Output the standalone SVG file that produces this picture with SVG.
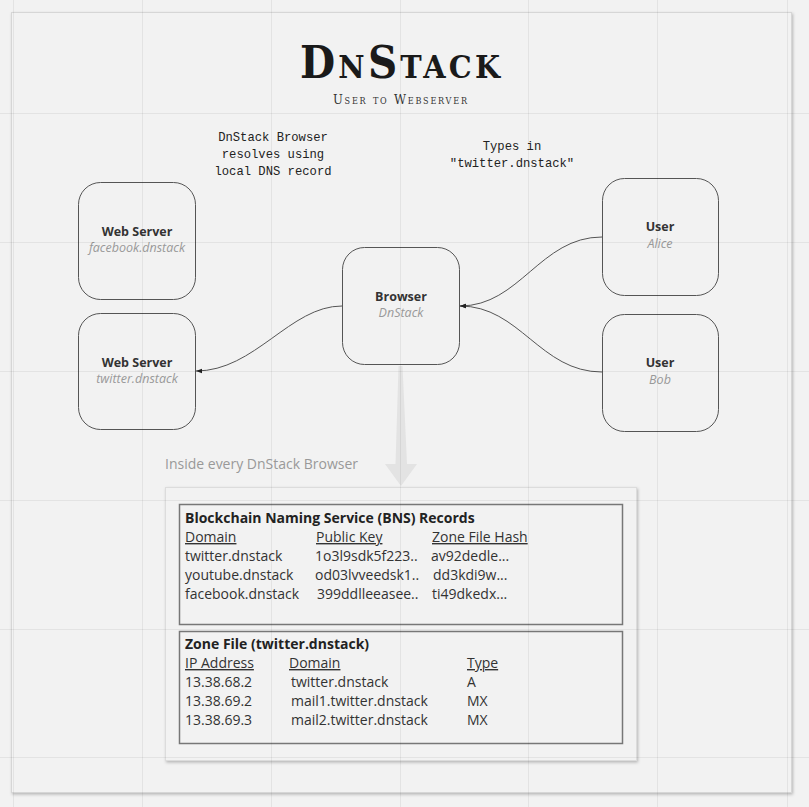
<svg xmlns="http://www.w3.org/2000/svg" width="809" height="807" viewBox="0 0 809 807">
<defs>
<style>
.bg{fill:#f2f2f2}
.node{fill:none;stroke:#555;stroke-width:1}
.t{font-family:"Open Sans","Liberation Sans",sans-serif;text-anchor:middle}
.nt{font-size:12.5px;font-weight:bold;fill:#333}
.ns{font-size:12.5px;font-style:italic;fill:#999}
.mono{font-family:"Liberation Mono","DejaVu Sans Mono",monospace;font-size:12.2px;fill:#222;text-anchor:middle}
.conn{fill:none;stroke:#555;stroke-width:1}
.tb{font-family:"Open Sans","Liberation Sans",sans-serif;font-size:14px;fill:#333}
.tbh{font-weight:bold;fill:#222}
.u{text-decoration:underline}
.box{fill:none;stroke:#777;stroke-width:1.5}
.grid{stroke:#000;stroke-opacity:0.06;stroke-width:1}
</style>
<marker id="ah" viewBox="0 0 6 6" refX="6" refY="3" markerWidth="6" markerHeight="6" orient="auto" markerUnits="userSpaceOnUse">
<path d="M0,0.8 L6,3 L0,5.2 z" fill="#222"/>
</marker>
<filter id="sh" x="-5%" y="-5%" width="110%" height="110%">
<feDropShadow dx="1" dy="1.5" stdDeviation="1.5" flood-color="#000" flood-opacity="0.25"/>
</filter>
</defs>
<rect class="bg" x="0" y="0" width="809" height="807"/>
<rect x="11.5" y="12.5" width="780" height="780" fill="#f2f2f2" stroke="#d6d6d6" filter="url(#sh)"/>

<g id="title">
<text x="400" y="78" font-family="DejaVu Serif,Liberation Serif,serif" font-stretch="condensed" font-weight="bold" font-size="45" font-variant="small-caps" text-anchor="middle" fill="#1a1a1a" textLength="200">DnStack</text>
<text x="400" y="104" font-family="DejaVu Serif,Liberation Serif,serif" font-stretch="condensed" font-size="13" font-variant="small-caps" text-anchor="middle" fill="#333" textLength="134">User to Webserver</text>
</g>

<g id="note-resolve">
<text class="mono" x="273" y="141">DnStack Browser</text>
<text class="mono" x="273" y="158">resolves using</text>
<text class="mono" x="273" y="175">local DNS record</text>
</g>
<g id="note-types">
<text class="mono" x="512" y="150">Types in</text>
<text class="mono" x="512" y="167">"twitter.dnstack"</text>
</g>

<g id="connectors">
<path class="conn" d="M342,306 C290,306 255,371 196,371" marker-end="url(#ah)"/>
<path class="conn" d="M602,237 C540,237 520,306 460,306" marker-end="url(#ah)"/>
<path class="conn" d="M602,372 C540,372 520,306 460,306" marker-end="url(#ah)"/>
<path d="M398.5,366 L402.5,366 L407,464 L417,464 L401,486 L385,464 L395.5,464 Z" fill="#e3e3e3"/>
</g>

<g id="ws-facebook">
<rect class="node" x="78.5" y="182.5" width="117" height="117" rx="22"/>
<text class="t nt" x="137" y="236">Web Server</text>
<text class="t ns" x="137" y="252">facebook.dnstack</text>
</g>
<g id="ws-twitter">
<rect class="node" x="78.5" y="313.5" width="117" height="116" rx="22"/>
<text class="t nt" x="137" y="367">Web Server</text>
<text class="t ns" x="137" y="383">twitter.dnstack</text>
</g>
<g id="browser">
<rect class="node" x="342.5" y="247.5" width="117" height="117" rx="22"/>
<text class="t nt" x="401" y="301">Browser</text>
<text class="t ns" x="401" y="317">DnStack</text>
</g>
<g id="user-alice">
<rect class="node" x="602.5" y="178.5" width="116" height="117" rx="22"/>
<text class="t nt" x="660" y="231">User</text>
<text class="t ns" x="660" y="248">Alice</text>
</g>
<g id="user-bob">
<rect class="node" x="602.5" y="314.5" width="116" height="117" rx="22"/>
<text class="t nt" x="660" y="367">User</text>
<text class="t ns" x="660" y="384">Bob</text>
</g>

<g id="inside-label">
<text x="165" y="469" font-family="Open Sans,Liberation Sans,sans-serif" font-size="14" fill="#999">Inside every DnStack Browser</text>
</g>

<g id="records">
<rect x="165.5" y="487.5" width="471" height="273" fill="#f2f2f2" stroke="#dcdcdc" filter="url(#sh)"/>
<rect class="box" x="179.5" y="504.5" width="443" height="120"/>
<text class="tb tbh" x="185" y="523">Blockchain Naming Service (BNS) Records</text>
<text class="tb u" x="185" y="542">Domain</text>
<text class="tb u" x="316" y="542">Public Key</text>
<text class="tb u" x="432" y="542">Zone File Hash</text>
<text class="tb" x="185" y="561">twitter.dnstack</text>
<text class="tb" x="315" y="561">1o3l9sdk5f223..</text>
<text class="tb" x="431" y="561">av92dedle...</text>
<text class="tb" x="185" y="580">youtube.dnstack</text>
<text class="tb" x="315" y="580">od03lvveedsk1..</text>
<text class="tb" x="433" y="580">dd3kdi9w...</text>
<text class="tb" x="185" y="599">facebook.dnstack</text>
<text class="tb" x="317" y="599">399ddlleeasee..</text>
<text class="tb" x="432" y="599">ti49dkedx...</text>

<rect class="box" x="179.5" y="631.5" width="443" height="112"/>
<text class="tb tbh" x="185" y="649">Zone File (twitter.dnstack)</text>
<text class="tb u" x="185" y="668">IP Address</text>
<text class="tb u" x="289" y="668">Domain</text>
<text class="tb u" x="467" y="668">Type</text>
<text class="tb" x="185" y="687">13.38.68.2</text>
<text class="tb" x="291" y="687">twitter.dnstack</text>
<text class="tb" x="467" y="687">A</text>
<text class="tb" x="185" y="706">13.38.69.2</text>
<text class="tb" x="291" y="706">mail1.twitter.dnstack</text>
<text class="tb" x="467" y="706">MX</text>
<text class="tb" x="185" y="725">13.38.69.3</text>
<text class="tb" x="291" y="725">mail2.twitter.dnstack</text>
<text class="tb" x="467" y="725">MX</text>
</g>

<g id="grid" class="grid">
<line x1="13.5" y1="0" x2="13.5" y2="807"/>
<line x1="142.5" y1="0" x2="142.5" y2="807"/>
<line x1="271.5" y1="0" x2="271.5" y2="807"/>
<line x1="400.5" y1="0" x2="400.5" y2="807"/>
<line x1="528.5" y1="0" x2="528.5" y2="807"/>
<line x1="657.5" y1="0" x2="657.5" y2="807"/>
<line x1="787.5" y1="0" x2="787.5" y2="807"/>
<line x1="0" y1="113.5" x2="809" y2="113.5"/>
<line x1="0" y1="242.5" x2="809" y2="242.5"/>
<line x1="0" y1="371.5" x2="809" y2="371.5"/>
<line x1="0" y1="500.5" x2="809" y2="500.5"/>
<line x1="0" y1="629.5" x2="809" y2="629.5"/>
<line x1="0" y1="757.5" x2="809" y2="757.5"/>
</g>
</svg>
